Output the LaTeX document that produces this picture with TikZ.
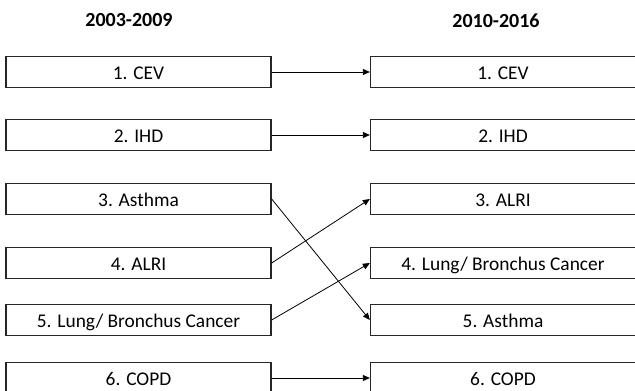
\documentclass[tikz,border=0pt]{standalone}
\usepackage{fontspec}
\setmainfont{Carlito}
\usetikzlibrary{arrows.meta}
\tikzstyle{box}=[draw=black!85, line width=1.3pt, minimum width=265pt, minimum height=31pt, inner sep=0pt, text height=15.5pt, text depth=1pt, font=\fontsize{19.4}{22}\selectfont]
\tikzstyle{head}=[font=\fontsize{20}{23}\selectfont\bfseries]
\tikzstyle{link}=[line width=0.8pt, -{Triangle[length=7pt,width=6pt]}]

\begin{document}
\begin{tikzpicture}[x=1pt,y=-1pt]
		   \clip (0,0) rectangle (635,391);
		   \begin{scope}
			   \node (h1) at (129, 20.5)[head] {2003-2009};
			   \node (h2) at (496, 20.5)[head] {2010-2016};
		   \end{scope}
		   \begin{scope}
			   \node (l1) at (138.5, 72)[box] {1. CEV};
			   \node (l2) at (138.5, 135)[box] {2. IHD};
			   \node (l3) at (138.5, 199)[box] {3. Asthma};
			   \node (l4) at (138.5, 263)[box] {4. ALRI};
			   \node (l5) at (138.5, 320)[box] {5. Lung/ Bronchus Cancer};
			   \node (l6) at (138.5, 378)[box] {6. COPD};
		   \end{scope}
		   \begin{scope}
			   \node (r1) at (503, 72)[box] {1. CEV};
			   \node (r2) at (503, 135)[box] {2. IHD};
			   \node (r3) at (503, 199)[box] {3. ALRI};
			   \node (r4) at (503, 263)[box] {4. Lung/ Bronchus Cancer};
			   \node (r5) at (503, 320)[box] {5. Asthma};
			   \node (r6) at (503, 378)[box] {6. COPD};
		   \end{scope}
		   \begin{scope}
			   \path [link] (l1) edge (r1);
			   \path [link] (l2) edge (r2);
			   \path [link] (l3.east) edge (r5.west);
			   \path [link] (l4.east) edge (r3.west);
			   \path [link] (l5.east) edge (r4.west);
			   \path [link] (l6) edge (r6);
		   \end{scope}
	   \end{tikzpicture}
\end{document}
